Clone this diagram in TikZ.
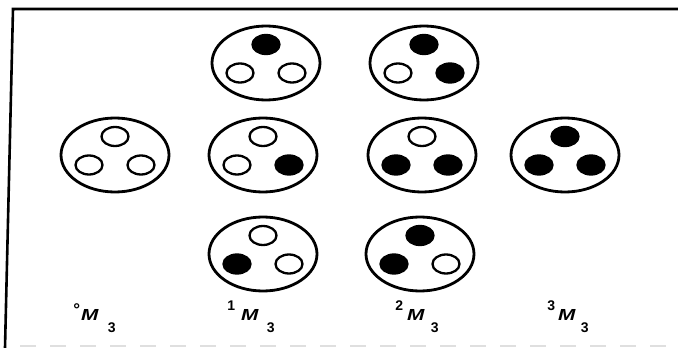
\documentclass[tikz,border=0pt]{standalone}
\usepackage{fontspec}
\setmainfont{Liberation Sans}
\usetikzlibrary{shapes.geometric}
\newcommand{\cellM}[6]{%
  \node[cell] (#1) at (#2,#3) {};
  \node[#4] (#1t) at ([yshift=18.5pt]#1.center) {};
  \node[#5] (#1l) at ([xshift=-26pt,yshift=-10pt]#1.center) {};
  \node[#6] (#1r) at ([xshift=26pt,yshift=-10pt]#1.center) {};
}
\newcommand{\mlabel}[5]{%
  \node[lbl] (#1) at (#2,320.5) {\llap{#3\hspace{#4}}\scalebox{1.3}[1]{\textit{M}}\rlap{\hspace{#5}\raisebox{-12pt}{\fontsize{14}{14}\selectfont 3}}};
}
\begin{document}
\begin{tikzpicture}[x=1pt,y=-1pt,
  cell/.style={draw, ellipse, line width=2.8pt, minimum width=108pt, minimum height=74pt, inner sep=0pt},
  dotopen/.style={draw, ellipse, line width=2.3pt, inner sep=0pt, minimum width=27pt, minimum height=19pt},
  dotfull/.style={dotopen, fill=black},
  lbl/.style={anchor=base, inner sep=0pt, font=\bfseries\fontsize{16}{16}\selectfont},
  frame/.style={line width=2.6pt},
  edge/.style={gray!25, line width=2pt, dash pattern=on 16pt off 14pt}]
\useasboundingbox (0,0) rectangle (678,348);
\draw[frame] (5,348) -- (13,9) -- (678,9);
\draw[edge] (20,346) -- (678,346);
% top row
\cellM{a1}{266}{63}{dotfull}{dotopen}{dotopen}
\cellM{a2}{424}{63}{dotfull}{dotopen}{dotfull}
% middle row
\cellM{b1}{115}{155}{dotopen}{dotopen}{dotopen}
\cellM{b2}{263}{155}{dotopen}{dotopen}{dotfull}
\cellM{b3}{422}{155}{dotopen}{dotfull}{dotfull}
\cellM{b4}{565}{155}{dotfull}{dotfull}{dotfull}
% bottom row
\cellM{c1}{263}{254}{dotopen}{dotfull}{dotopen}
\cellM{c2}{420}{254}{dotfull}{dotfull}{dotopen}
% labels
\mlabel{L0}{90}{\raisebox{5pt}{\fontsize{17}{17}\selectfont °}}{1pt}{9pt}
\mlabel{L1}{250}{\raisebox{10pt}{\fontsize{14}{14}\selectfont 1}}{6pt}{8pt}
\mlabel{L2}{416}{\raisebox{10pt}{\fontsize{14}{14}\selectfont 2}}{4pt}{6pt}
\mlabel{L3}{567}{\raisebox{10pt}{\fontsize{14}{14}\selectfont 3}}{3pt}{5pt}
\end{tikzpicture}
\end{document}
